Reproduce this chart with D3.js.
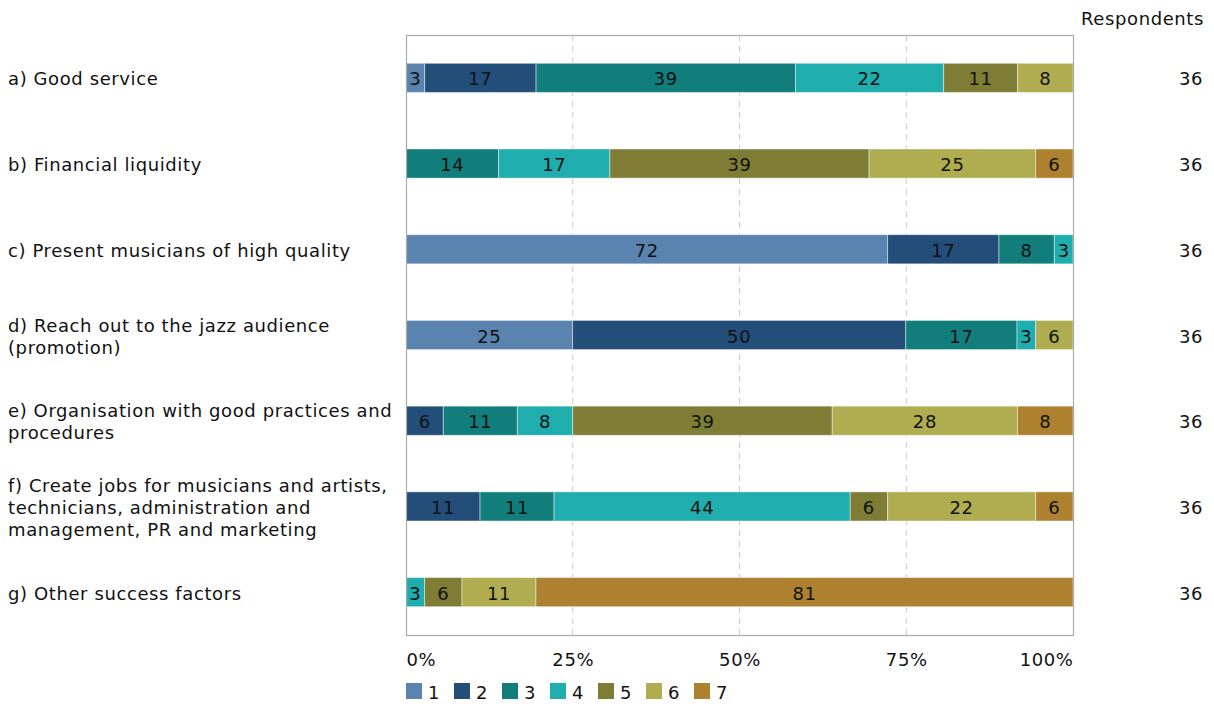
<!DOCTYPE html>
<html><head><meta charset="utf-8">
<script src="https://cdn.jsdelivr.net/npm/d3@7"></script>
<style>body{margin:0;background:#fff}svg{font-family:"DejaVu Sans",Verdana,sans-serif;letter-spacing:0.6px}</style>
</head><body><svg id="c" width="1214" height="704"></svg>
<script>
const categories = [
  "a) Good service",
  "b) Financial liquidity",
  "c) Present musicians of high quality",
  "d) Reach out to the jazz audience\n(promotion)",
  "e) Organisation with good practices and\nprocedures",
  "f) Create jobs for musicians and artists,\ntechnicians, administration and\nmanagement, PR and marketing",
  "g) Other success factors"
];
const seriesNames = ["1","2","3","4","5","6","7"];
// shares in percent (labels are shown rounded)
const s1 = [2.8, 0, 72.2, 25.0, 0, 0, 0];
const s2 = [16.7, 0, 16.7, 50.0, 5.6, 11.1, 0];
const s3 = [38.9, 13.9, 8.3, 16.7, 11.1, 11.1, 0];
const s4 = [22.2, 16.7, 2.8, 2.8, 8.3, 44.4, 2.8];
const s5 = [11.1, 38.9, 0, 0, 38.9, 5.6, 5.6];
const s6 = [8.3, 25.0, 0, 5.6, 27.8, 22.2, 11.1];
const s7 = [0, 5.6, 0, 0, 8.3, 5.6, 80.6];
const respondents = [36, 36, 36, 36, 36, 36, 36];
const tickValues = [0, 0.25, 0.5, 0.75, 1];
const colors = ["#5a83af","#224e79","#117e7c","#20adad","#7e7c35","#afad50","#ad812f"];

const FS = 18;
const series = [s1,s2,s3,s4,s5,s6,s7];
const rows = categories.map((c,i)=>{
  const o = {cat:c};
  const tot = d3.sum(series, s=>s[i]);
  seriesNames.forEach((n,k)=>{o[n]=series[k][i]/tot; o["v"+n]=series[k][i];});
  return o;
});

const svg = d3.select("#c");
const L=406, R=1073, T=35, B=635;
const x = d3.scaleLinear().domain([0,1]).range([L,R]);
const y = d3.scaleBand().domain(categories).range([T,B]).paddingInner(0.66).paddingOuter(0.33);

// gridlines
svg.append("g").selectAll("line").data([0.25,0.5,0.75]).join("line")
  .attr("x1",d=>x(d)).attr("x2",d=>x(d)).attr("y1",T).attr("y2",B)
  .attr("stroke","#cccccc").attr("stroke-dasharray","6,5").attr("stroke-width",1);

const fmt = d3.format(".0f");
const stack = d3.stack().keys(seriesNames)(rows);
const g = svg.append("g");
stack.forEach((layer,k)=>{
  const lg = g.append("g");
  layer.forEach(d=>{
    const w = x(d[1])-x(d[0]);
    if(w<=0.01) return;
    lg.append("rect").attr("x",x(d[0])).attr("y",y(d.data.cat)).attr("width",w).attr("height",y.bandwidth())
      .attr("fill",colors[k]).attr("stroke","rgba(255,255,255,0.45)").attr("stroke-width",1);
    lg.append("text").attr("x",(x(d[0])+x(d[1]))/2).attr("y",y(d.data.cat)+y.bandwidth()/2+1)
      .attr("text-anchor","middle").attr("dominant-baseline","central")
      .attr("font-size",FS).attr("fill","#111").text(fmt(d.data["v"+layer.key]));
  });
});

// frame
svg.append("rect").attr("x",L+0.5).attr("y",T+0.5).attr("width",R-L).attr("height",B-T)
  .attr("fill","none").attr("stroke","#aaaaaa").attr("stroke-width",1.2);

// x axis labels
const xa = svg.append("g").attr("transform",`translate(0,${B})`).call(d3.axisBottom(x).tickValues(tickValues).tickFormat(d3.format(".0%")).tickSize(0).tickPadding(18));
xa.select(".domain").remove();
xa.selectAll("text").attr("font-size",FS).attr("fill","#111").attr("font-family","DejaVu Sans, sans-serif")
  .attr("text-anchor",(d,i)=> i===0?"start": i===tickValues.length-1?"end":"middle");

// category labels
categories.forEach(c=>{
  const lines = c.split("\n");
  const cy = y(c)+y.bandwidth()/2;
  const lh = 22;
  const t = svg.append("text").attr("x",8).attr("font-size",FS).attr("fill","#111");
  lines.forEach((ln,i)=>{
    t.append("tspan").attr("x",8).attr("y",cy+1+(i-(lines.length-1)/2)*lh).attr("dominant-baseline","central").text(ln);
  });
});

// respondents
svg.append("text").attr("x",1204).attr("y",18).attr("text-anchor","end").attr("dominant-baseline","central")
  .attr("font-size",FS).attr("fill","#111").text("Respondents");
categories.forEach((c,i)=>{
  svg.append("text").attr("x",1203).attr("y",y(c)+y.bandwidth()/2+1).attr("text-anchor","end").attr("dominant-baseline","central")
    .attr("font-size",FS).attr("fill","#111").text(respondents[i]);
});

// legend
const leg = svg.append("g");
seriesNames.forEach((n,k)=>{
  const lx = 406 + k*48;
  leg.append("rect").attr("x",lx).attr("y",683).attr("width",16).attr("height",16).attr("fill",colors[k]);
  leg.append("text").attr("x",lx+22).attr("y",692).attr("dominant-baseline","central").attr("font-size",FS).attr("fill","#111").text(n);
});
</script></body></html>
